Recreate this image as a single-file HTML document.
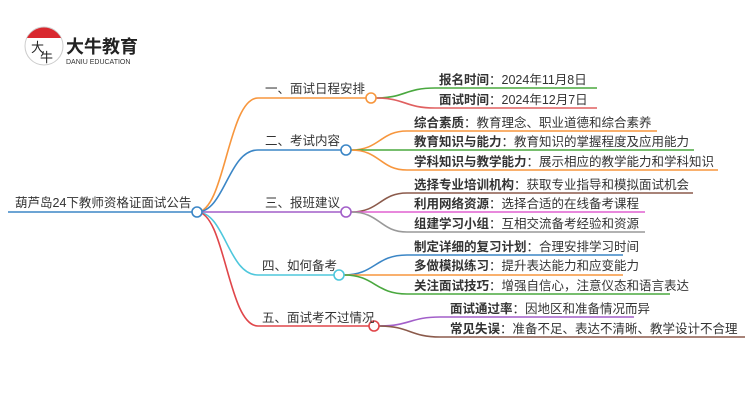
<!DOCTYPE html>
<html><head><meta charset="utf-8"><style>
html,body{margin:0;padding:0;background:#fff;}
svg{display:block;font-family:"Liberation Sans","Noto Sans CJK SC",sans-serif;}
.t{font-size:12.5px;fill:#333;}
.b{font-weight:bold;}
</style></head><body>
<svg width="750" height="410" viewBox="0 0 750 410" xmlns="http://www.w3.org/2000/svg">
<!-- logo -->
<circle cx="44" cy="46" r="19" fill="#fff" stroke="#ccc" stroke-width="1"/>
<path d="M27,38 A19,19 0 0 1 61,38 Z" fill="#d9282f"/>
<text x="31" y="52" font-size="13" fill="#222">大</text>
<text x="40" y="62" font-size="13" fill="#222">牛</text>
<text x="66" y="53" font-size="18" font-weight="bold" fill="#222">大牛教育</text>
<text x="66" y="64" font-size="7" fill="#333">DANIU EDUCATION</text>

<g fill="none" stroke-width="1.6">
<line x1="8" y1="212" x2="192" y2="212" stroke="#3b86c6"/>
<path d="M197,212 C225,212 228,98 258,98 L366,98" stroke="#f7963d"/>
<path d="M197,212 C225,212 228,150 258,150 L341,150" stroke="#3b86c6"/>
<path d="M197,212 L341,212" stroke="#a25fc9"/>
<path d="M197,212 C225,212 228,275 258,275 L334,275" stroke="#4ec7dc"/>
<path d="M197,212 C225,212 228,326 258,326 L369,326" stroke="#e0464a"/>
<path d="M376,98 C405,98 405,88 435,88 L597,88" stroke="#4aa83f"/>
<path d="M376,98 C405,98 405,108 435,108 L597,108" stroke="#e06060"/>
<path d="M351,150 C380,150 380,131 407,131 L657,131" stroke="#f7963d"/>
<path d="M351,150 L694,150" stroke="#4aa83f"/>
<path d="M351,150 C380,150 380,170 407,170 L718,170" stroke="#f7963d"/>
<path d="M351,212 C380,212 380,193 407,193 L693,193" stroke="#8b5a4b"/>
<path d="M351,212 L645,212" stroke="#e060d0"/>
<path d="M351,212 C380,212 380,232 407,232 L645,232" stroke="#999"/>
<path d="M344,275 C375,275 375,255 407,255 L623,255" stroke="#3b86c6"/>
<path d="M344,275 L623,275" stroke="#f7963d"/>
<path d="M344,275 C375,275 375,294 407,294 L670,294" stroke="#4aa83f"/>
<path d="M379,326 C410,326 410,317 440,317 L634,317" stroke="#a25fc9"/>
<path d="M379,326 C410,326 410,337 440,337 L745,337" stroke="#8b5a4b"/>
</g>
<g fill="#fff" stroke-width="1.6">
<circle cx="197" cy="212" r="5" stroke="#3b86c6"/>
<circle cx="371" cy="98" r="5" stroke="#f7963d"/>
<circle cx="346" cy="150" r="5" stroke="#3b86c6"/>
<circle cx="346" cy="212" r="5" stroke="#a25fc9"/>
<circle cx="339" cy="275" r="5" stroke="#4ec7dc"/>
<circle cx="374" cy="326" r="5" stroke="#e0464a"/>
</g>
<text class="t" x="15" y="207">葫芦岛24下教师资格证面试公告</text>
<text class="t" x="265" y="93">一、面试日程安排</text>
<text class="t" x="265" y="145">二、考试内容</text>
<text class="t" x="265" y="207">三、报班建议</text>
<text class="t" x="262" y="270">四、如何备考</text>
<text class="t" x="262" y="322">五、面试考不过情况</text>

<text class="t" x="439" y="84"><tspan class="b">报名时间</tspan>：2024年11月8日</text>
<text class="t" x="439" y="104"><tspan class="b">面试时间</tspan>：2024年12月7日</text>
<text class="t" x="414" y="127"><tspan class="b">综合素质</tspan>：教育理念、职业道德和综合素养</text>
<text class="t" x="414" y="146"><tspan class="b">教育知识与能力</tspan>：教育知识的掌握程度及应用能力</text>
<text class="t" x="414" y="166"><tspan class="b">学科知识与教学能力</tspan>：展示相应的教学能力和学科知识</text>
<text class="t" x="414" y="189"><tspan class="b">选择专业培训机构</tspan>：获取专业指导和模拟面试机会</text>
<text class="t" x="414" y="208"><tspan class="b">利用网络资源</tspan>：选择合适的在线备考课程</text>
<text class="t" x="414" y="228"><tspan class="b">组建学习小组</tspan>：互相交流备考经验和资源</text>
<text class="t" x="414" y="251"><tspan class="b">制定详细的复习计划</tspan>：合理安排学习时间</text>
<text class="t" x="414" y="270"><tspan class="b">多做模拟练习</tspan>：提升表达能力和应变能力</text>
<text class="t" x="414" y="290"><tspan class="b">关注面试技巧</tspan>：增强自信心，注意仪态和语言表达</text>
<text class="t" x="450" y="313"><tspan class="b">面试通过率</tspan>：因地区和准备情况而异</text>
<text class="t" x="450" y="333"><tspan class="b">常见失误</tspan>：准备不足、表达不清晰、教学设计不合理</text>
</svg>
</body></html>
